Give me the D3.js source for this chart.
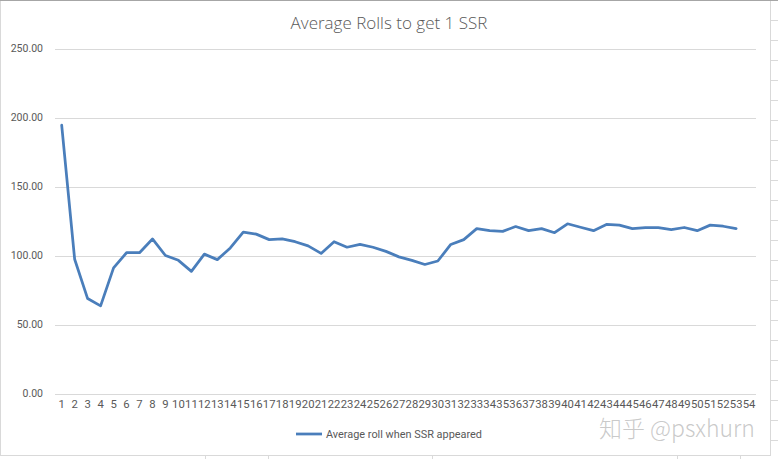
<!DOCTYPE html>
<html>
<head>
<meta charset="utf-8">
<script src="https://cdn.jsdelivr.net/npm/d3@7"></script>
<style>
  html, body { margin: 0; padding: 0; background: #fff; }
  svg { display: block; }
</style>
</head>
<body>
<svg id="chart" width="778" height="459"></svg>
<script>
// ---- data ----
const title = "Average Rolls to get 1 SSR";
const seriesName = "Average roll when SSR appeared";
const categories = ["1","2","3","4","5","6","7","8","9","10","11","12","13","14","15","16","17","18","19","20","21","22","23","24","25","26","27","28","29","30","31","32","33","34","35","36","37","38","39","40","41","42","43","44","45","46","47","48","49","50","51","52","53","54"];
const values = [194.4, 97.3, 68.8, 63.5, 91, 102, 102, 112, 100, 96.5,
                88.5, 101, 97, 105.5, 117, 115.5, 111.5, 112, 110, 107,
                101.5, 110, 106, 108, 106, 103, 99, 96.5, 93.5, 96,
                108, 111.5, 119.5, 118, 117.5, 121, 118, 119.5, 116.5, 123,
                120.5, 118, 122.5, 122, 119.5, 120.2, 120.2, 118.8, 120.3, 118,
                122, 121.2, 119.5];
const yTicks = [0, 50, 100, 150, 200, 250];
const watermark = "知乎 @psxhurn";

// ---- drawing ----
const svg = d3.select("#chart");
const W = 778, H = 459;
svg.append("rect").attr("width", W).attr("height", H).attr("fill", "#fff");

// spreadsheet cell lines outside the chart
const cellG = svg.append("g").attr("stroke", "#dadada").attr("stroke-width", 1);
[20,40,60,80,100,120,140,160,180,200,220,240,260,280,300,320,340,360,380,400,420,440].forEach(y => {
  cellG.append("line").attr("x1", 771).attr("x2", W).attr("y1", y + 0.5).attr("y2", y + 0.5);
});
[205, 268, 432, 677, 740].forEach(x => {
  cellG.append("line").attr("x1", x + 0.5).attr("x2", x + 0.5).attr("y1", 456).attr("y2", H);
});

// chart border
svg.append("rect").attr("x", 0.5).attr("y", 0.5).attr("width", 770).attr("height", 455)
  .attr("fill", "#fff").attr("stroke", "#d9d9d9");
svg.append("line").attr("x1", 0).attr("x2", W).attr("y1", 0.5).attr("y2", 0.5)
  .attr("stroke", "#a6a6a6");

const x = d3.scaleBand().domain(categories).range([55.2, 755.6]);
const y = d3.scaleLinear().domain([0, 250]).range([393.5, 48.5]);

// gridlines
const grid = svg.append("g");
grid.selectAll("line").data(yTicks).join("line")
  .attr("x1", 55).attr("x2", 756)
  .attr("y1", d => Math.round(y(d)) + 0.5).attr("y2", d => Math.round(y(d)) + 0.5)
  .attr("stroke", "#d9d9d9").attr("stroke-width", 1);

// y axis labels
const yAxis = d3.axisLeft(y).tickValues(yTicks).tickFormat(d3.format(".2f")).tickSize(0).tickPadding(0);
const yg = svg.append("g").attr("transform", "translate(43,0)").call(yAxis);
yg.select(".domain").remove();
yg.selectAll("text").attr("fill", "#595959").attr("font-family", "Roboto, 'Open Sans', sans-serif")
  .attr("font-size", "10.5px");

// x axis labels
const xAxis = d3.axisBottom(x).tickSize(0).tickPadding(0);
const xg = svg.append("g").attr("transform", "translate(0,400)").call(xAxis);
xg.select(".domain").remove();
xg.selectAll("text").attr("fill", "#595959").attr("font-family", "Roboto, 'Open Sans', sans-serif")
  .attr("font-size", "11.3px");

// line
const line = d3.line()
  .x((d, i) => x(categories[i]) + x.bandwidth() / 2)
  .y(d => y(d));
svg.append("path").datum(values)
  .attr("d", line)
  .attr("fill", "none")
  .attr("stroke", "#4a7ebb")
  .attr("stroke-width", 2.75)
  .attr("stroke-linejoin", "round")
  .attr("stroke-linecap", "round");

// title
svg.append("text").attr("x", 389).attr("y", 29).attr("text-anchor", "middle")
  .attr("font-family", "'Open Sans', sans-serif").attr("font-weight", 300)
  .attr("font-size", "17px").attr("fill", "#595959").text(title);

// legend
svg.append("line").attr("x1", 296).attr("x2", 322).attr("y1", 434).attr("y2", 434)
  .attr("stroke", "#4a7ebb").attr("stroke-width", 2.75);
svg.append("text").attr("x", 326).attr("y", 438)
  .attr("font-family", "Roboto, 'Open Sans', sans-serif").attr("font-size", "10.9px")
  .attr("fill", "#595959").text(seriesName);

// watermark
svg.append("text").attr("x", 599).attr("y", 437)
  .attr("font-family", "'Noto Sans CJK SC', 'Noto Sans', sans-serif").attr("font-size", "23px")
  .attr("font-weight", 300)
  .attr("fill", "#bcbcbc").attr("fill-opacity", 0.8).text(watermark);
</script>
</body>
</html>
